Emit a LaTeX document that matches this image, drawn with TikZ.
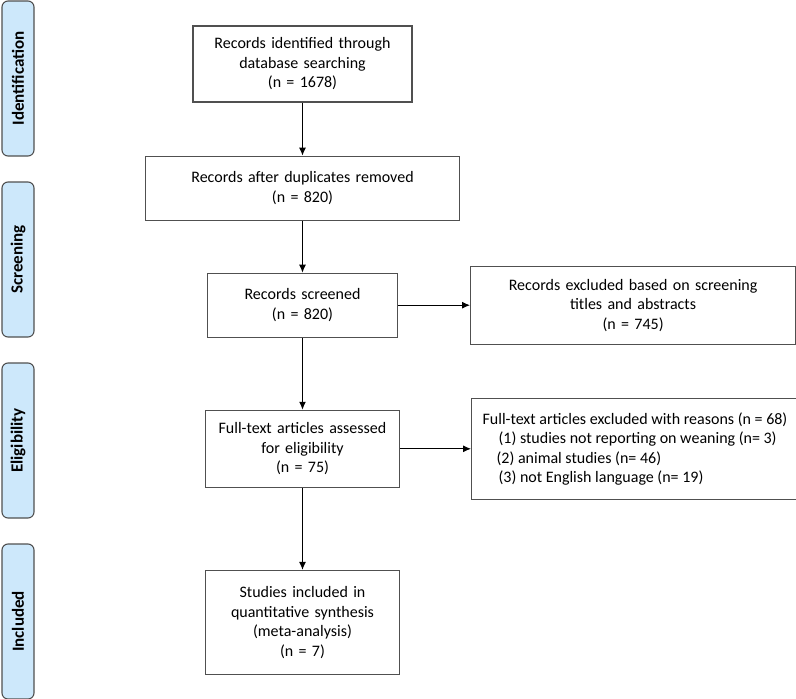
\documentclass[tikz,border=0pt]{standalone}
\usepackage{fontspec}
\setmainfont{Carlito}
\usetikzlibrary{positioning,arrows.meta}
\definecolor{stageblue}{RGB}{205,232,251}
\definecolor{boxgray}{RGB}{80,80,80}

\begin{document}
\begin{tikzpicture}[x=1pt,y=1pt,
  mybox/.style={draw=boxgray,line width=1.1pt,align=center,inner xsep=0pt,font=\fontsize{16}{19.5}\selectfont},
  mystage/.style={draw=boxgray,line width=1.1pt,fill=stageblue,rounded corners=6pt,rotate=90,minimum width=155pt,minimum height=32pt,inner sep=0pt,font=\fontsize{17}{20}\selectfont\bfseries},
  myarrow/.style={line width=1pt,-{Latex[length=8pt,width=7pt]}}
]
\useasboundingbox (0,0) rectangle (796,-699);

\foreach \t [count=\i from 0] in {Identification,Screening,Eligibility,Included}{
\node[mystage] at (18,{-78.5-181*\i}) (S\i) {\t};
}

\node[mybox,text width=219pt,minimum height=76pt] at (302.5,-64) (found) {Records identified through\\database searching\\(n = 1678)};
\node[mybox,text width=314pt,minimum height=64pt,below=53pt of found] (dedup) {Records after duplicates removed\\(n = 820)};
\node[mybox,text width=190pt,minimum height=64pt,below=52pt of dedup] (screened) {Records screened\\(n = 820)};
\node[mybox,text width=194pt,minimum height=77pt,below=72pt of screened] (fulltext) {Full-text articles assessed\\for eligibility\\(n = 75)};
\node[mybox,text width=194pt,minimum height=104pt,below=82pt of fulltext] (included) {Studies included in\\quantitative synthesis\\(meta-analysis)\\(n = 7)};

\node[mybox,text width=325pt,minimum height=78pt,right=72pt of screened] (excl1) {Records excluded based on screening\\titles and abstracts\\(n = 745)};
\node[mybox,align=left,inner xsep=11pt,minimum width=325pt,minimum height=101pt,right=71pt of fulltext] (excl2) {Full-text articles excluded with reasons (n = 68)\\
\hspace*{16pt}(1) studies not reporting on weaning (n= 3)\\
\hspace*{14pt}(2) animal studies (n= 46)\\
\hspace*{16pt}(3) not English language (n= 19)};

\path[myarrow]
(found) edge (dedup)
(dedup) edge (screened)
(screened) edge (fulltext)
(fulltext) edge (included);

\path[myarrow]
(screened) edge (excl1)
(fulltext) edge (excl2);

\end{tikzpicture}
\end{document}
